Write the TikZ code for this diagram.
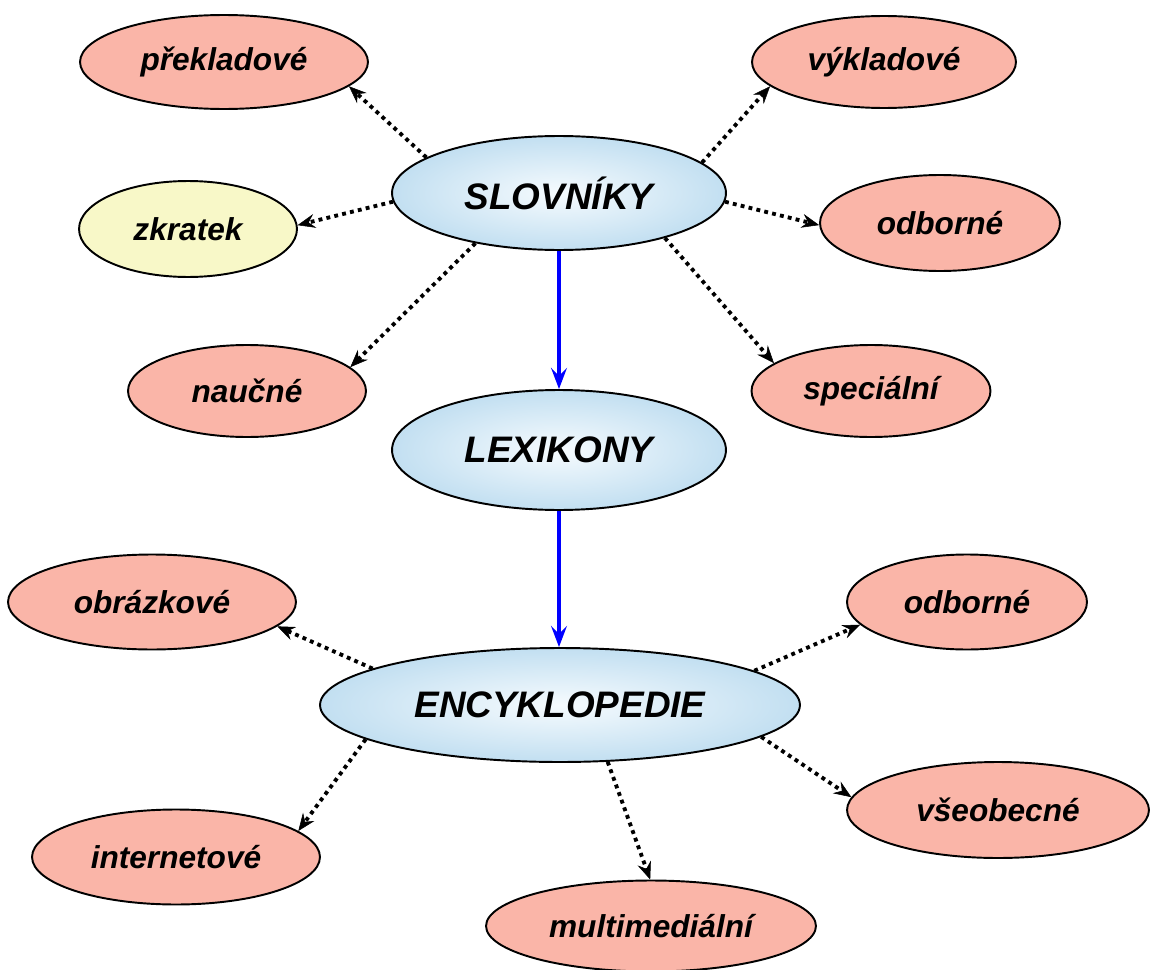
\documentclass[tikz,border=0pt]{standalone}
\usepackage{fontspec}
\setmainfont{Liberation Sans}
\usetikzlibrary{arrows.meta,shapes.geometric}
\definecolor{pinkfill}{HTML}{FAB5A8}
\definecolor{yellowfill}{HTML}{F8F8C8}
\definecolor{blueout}{HTML}{C2DFF1}
\definecolor{bluein}{HTML}{F6FBFE}
\tikzset{
  base/.style={ellipse, draw=black, line width=1.1pt, inner sep=0pt, font=\bfseries\itshape},
  small/.style={base, fill=pinkfill, font=\fontsize{18}{20}\selectfont\bfseries\itshape},
  yell/.style={small, fill=yellowfill},
  big/.style={base, shading=radial, inner color=bluein, outer color=blueout, font=\fontsize{21}{24}\selectfont\bfseries\itshape},
  dotarrow/.style={line width=2.2pt, dash pattern=on 2.2pt off 2.4pt, -{Stealth[length=10pt,width=8pt,inset=3.5pt,line width=0.3pt]}},
  bluearrow/.style={blue, line width=2.1pt, -{Stealth[length=12pt,width=9pt,inset=4.5pt]}}
}
\begin{document}
\begin{tikzpicture}[x=0.02cm,y=-0.02cm]
\useasboundingbox (0,0) rectangle (1150,970);
% main nodes
\node[big, minimum width=6.68cm, minimum height=2.28cm] (slov) at (559,193) {SLOVNÍKY};
\node[big, minimum width=6.68cm, minimum height=2.40cm] (lex) at (559,450) {LEXIKONY};
\node[big, minimum width=9.60cm, minimum height=2.28cm] (enc) at (560,705) {ENCYKLOPEDIE};
% top children
\node[small, minimum width=5.76cm, minimum height=1.88cm] (prek) at (224,62) {překladové};
\node[small, minimum width=5.28cm, minimum height=1.84cm] (vykl) at (884,62) {výkladové};
\node[yell, minimum width=4.36cm, minimum height=1.92cm] (zkr) at (188,229) {zkratek};
\node[small, minimum width=4.80cm, minimum height=1.92cm] (odbA) at (940,223) {odborné};
\node[small, minimum width=4.76cm, minimum height=1.84cm] (nauc) at (247,391) {naučné};
\node[small, minimum width=4.78cm, minimum height=1.84cm] (spec) at (871,391) {speciální};
% bottom children
\node[small, minimum width=5.76cm, minimum height=1.90cm] (obr) at (152,602) {obrázkové};
\node[small, minimum width=4.80cm, minimum height=1.90cm] (odbB) at (967,602) {odborné};
\node[small, minimum width=5.76cm, minimum height=1.90cm] (inet) at (176,857) {internetové};
\node[small, minimum width=6.04cm, minimum height=1.92cm] (vseo) at (998,810) {všeobecné};
\node[small, minimum width=6.60cm, minimum height=1.82cm] (mult) at (651,926) {multimediální};
% blue arrows
\draw[bluearrow] (slov.south) -- (lex.north);
\draw[bluearrow] (lex.south) -- (lex.south |- enc.north);
% dotted arrows
\draw[dotarrow] (slov.165.6) -- (prek.-11.7);
\draw[dotarrow] (slov.183.8) -- (zkr.2.6);
\draw[dotarrow] (slov.211.9) -- (nauc.13.9);
\draw[dotarrow] (slov.12.8) -- (vykl.192.2);
\draw[dotarrow] (slov.-3.7) -- (odbA.181.4);
\draw[dotarrow] (slov.-23.6) -- (spec.164.2);
\draw[dotarrow] (enc.169.7) -- (obr.-11.2);
\draw[dotarrow] (enc.190.7) -- (inet.12.5);
\draw[dotarrow] (enc.-50.9) -- (mult.91.3);
\draw[dotarrow] (enc.10.4) -- (odbB.192.2);
\draw[dotarrow] (enc.-9.8) -- (vseo.175.3);
\end{tikzpicture}
\end{document}
